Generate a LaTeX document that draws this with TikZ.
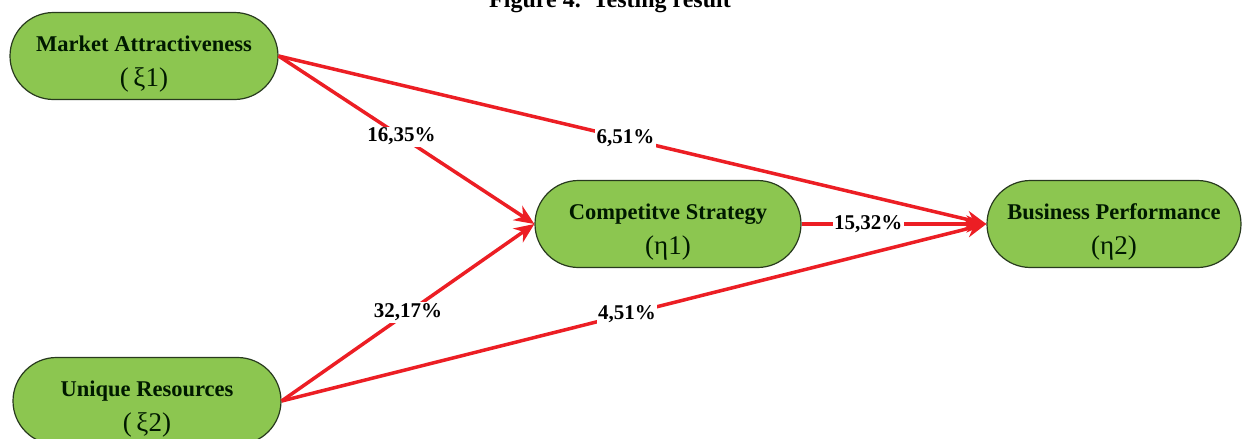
\documentclass[tikz,border=0pt]{standalone}
\usepackage{fontspec}
\setmainfont{Liberation Serif}
\usetikzlibrary{shapes.misc}
\usetikzlibrary{arrows.meta}
\definecolor{boxgreen}{RGB}{140,198,80}
\definecolor{boxline}{RGB}{40,58,30}
\definecolor{pathred}{RGB}{236,30,36}
\tikzset{
  construct/.style={rounded rectangle, draw=boxline, line width=1.2pt, fill=boxgreen,
    minimum width=268pt, minimum height=87pt, inner sep=0pt, align=center,
    text=black!90!green, font=\fontsize{22.5}{35}\selectfont},
  coef/.style={draw=pathred, line width=3.5pt, -{Stealth[length=20pt,width=17pt]}},
  coeflabel/.style={fill=white, inner sep=1.5pt, text=black,
    font=\fontsize{21}{24}\selectfont\bfseries},
}
\newcommand{\lname}[1]{{\bfseries\rule{0pt}{32pt}#1}}
\newcommand{\lsym}[1]{{\fontsize{27}{35}\selectfont (#1)}}

\begin{document}
\begin{tikzpicture}[x=1pt, y=-1pt]
  \useasboundingbox (0,0) rectangle (1243,439);

  \node[font=\fontsize{24}{28}\selectfont\bfseries, anchor=base] (title) at (610,7) {Figure 4.\ \ Testing result};

  \node[construct] (ma) at (144,56) {\lname{Market Attractiveness}\\ \lsym{\,ξ1}};
  \node[construct] (ur) at (147,401) {\lname{Unique Resources}\\ \lsym{\,ξ2}};
  \node[construct, minimum width=266pt] (cs) at (668,224) {\lname{Competitve Strategy}\\ \lsym{η1}};
  \node[construct, minimum width=254pt] (bp) at (1114,224) {\lname{Business Performance}\\ \lsym{η2}};

  \draw[coef] (ma.east) -- (cs.west) node[coeflabel, pos=.48] (l1) {16,35\%};
  \draw[coef] (ma.east) -- (bp.west) node[coeflabel, pos=.49] (l2) {6,51\%};
  \draw[coef] (ur.east) -- (cs.west) node[coeflabel, pos=.5] (l3) {32,17\%};
  \draw[coef] (ur.east) -- (bp.west) node[coeflabel, pos=.49] (l4) {4,51\%};
  \draw[coef] (cs.east) -- (bp.west) node[coeflabel, pos=.36] (l5) {15,32\%};

\end{tikzpicture}
\end{document}
